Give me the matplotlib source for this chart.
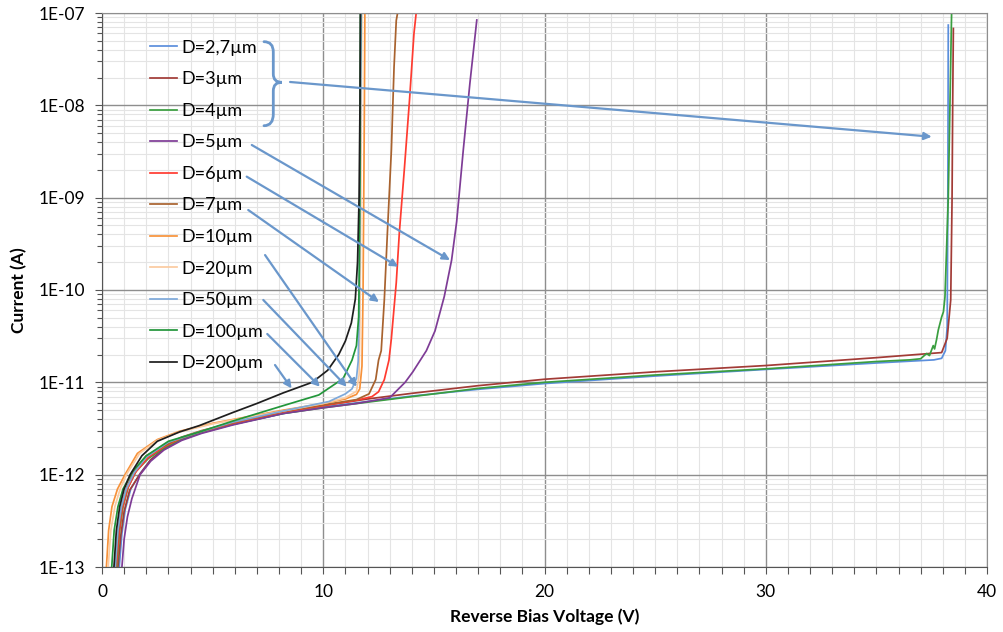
import numpy as np
import matplotlib
matplotlib.use('Agg')
import matplotlib.pyplot as plt
from matplotlib.ticker import LogLocator, MultipleLocator, FuncFormatter, NullFormatter
from matplotlib.path import Path
from matplotlib.patches import PathPatch

plt.rcParams['font.family'] = ['Lato', 'DejaVu Sans']

# ---- data ----
labels = ['D=2,7µm', 'D=3µm', 'D=4µm', 'D=5µm', 'D=6µm', 'D=7µm',
          'D=10µm', 'D=20µm', 'D=50µm', 'D=100µm', 'D=200µm']
colors = ['#5B8EDC', '#A23B36', '#3A9E3F', '#7E3C96', '#FF3B30', '#A8622E',
          '#F7923A', '#FBCBA0', '#7EA9DA', '#22963A', '#1E1E1E']

v_27 = [0.78, 0.9, 1.05, 1.3, 1.75, 2.2, 2.8, 3.6, 4.5, 5.9, 8.2, 10.0, 12.0, 14.0,
        17.0, 20.0, 25.0, 30.0, 35.0, 37.6, 37.95, 38.12, 38.2, 38.23, 38.25]
i_27 = [1e-13, 2.3e-13, 4.2e-13, 7e-13, 1.05e-12, 1.45e-12, 1.9e-12, 2.4e-12, 2.85e-12,
        3.5e-12, 4.6e-12, 5.4e-12, 6.2e-12, 7.1e-12, 8.4e-12, 9.7e-12, 1.17e-11, 1.38e-11,
        1.62e-11, 1.75e-11, 1.82e-11, 2.2e-11, 4e-11, 1e-9, 7.4e-8]

v_3 = [0.72, 0.85, 1.0, 1.25, 1.7, 2.2, 2.8, 3.6, 4.5, 5.9, 8.2, 10.0, 12.0, 14.0,
       17.0, 20.0, 25.0, 30.0, 35.0, 37.95, 38.2, 38.36, 38.42, 38.45, 38.48]
i_3 = [1e-13, 2.2e-13, 4e-13, 6.8e-13, 1.0e-12, 1.45e-12, 1.9e-12, 2.45e-12, 2.9e-12,
       3.6e-12, 4.8e-12, 5.6e-12, 6.6e-12, 7.6e-12, 9.2e-12, 1.08e-11, 1.3e-11, 1.52e-11,
       1.85e-11, 2.1e-11, 3e-11, 7.8e-11, 9.3e-10, 1.1e-8, 6.8e-8]

v_4 = [0.68, 0.8, 0.95, 1.2, 1.55, 2.1, 2.8, 3.6, 4.5, 5.9, 8.2, 10.0, 12.0, 14.0,
       17.0, 20.0, 25.0, 30.0, 35.0, 36.5, 37.0, 37.27, 37.4, 37.57, 37.63, 37.72,
       37.8, 37.95, 38.03, 38.1, 38.25, 38.4, 39.05]
i_4 = [1e-13, 2.5e-13, 4.5e-13, 7.5e-13, 1.1e-12, 1.5e-12, 1.95e-12, 2.4e-12, 2.85e-12,
       3.5e-12, 4.6e-12, 5.3e-12, 6.1e-12, 7.0e-12, 8.6e-12, 1.0e-11, 1.2e-11, 1.4e-11,
       1.68e-11, 1.75e-11, 1.8e-11, 2.05e-11, 1.95e-11, 2.5e-11, 2.3e-11, 2.9e-11,
       3.7e-11, 5.1e-11, 5.8e-11, 8.4e-11, 1e-9, 1e-7, 1e-7]

v_5 = [0.9, 1.0, 1.15, 1.35, 1.72, 2.2, 2.8, 3.6, 4.5, 5.9, 8.2, 10.0, 11.5, 13.0,
       13.7, 14.05, 14.66, 15.05, 15.47, 15.8, 16.03, 16.33, 16.63, 16.94]
i_5 = [1e-13, 2e-13, 3.5e-13, 5.5e-13, 1e-12, 1.4e-12, 1.85e-12, 2.35e-12, 2.8e-12,
       3.45e-12, 4.6e-12, 5.3e-12, 5.9e-12, 6.8e-12, 1.0e-11, 1.3e-11, 2.2e-11, 3.6e-11,
       8.5e-11, 2.1e-10, 5.5e-10, 3.3e-9, 1.75e-8, 8.4e-8]

v_6 = [0.65, 0.78, 0.92, 1.15, 1.5, 2.1, 2.8, 3.6, 4.5, 5.9, 8.2, 10.0, 11.5, 12.2,
       12.5, 12.76, 12.97, 13.08, 13.3, 13.44, 13.67, 13.9, 14.1, 14.2]
i_6 = [1e-13, 2.4e-13, 4.3e-13, 7e-13, 1.05e-12, 1.55e-12, 2.0e-12, 2.5e-12, 2.95e-12,
       3.6e-12, 4.8e-12, 5.6e-12, 6.4e-12, 7.0e-12, 7.9e-12, 1.07e-11, 1.74e-11, 3.0e-11,
       1.2e-10, 4.2e-10, 2.1e-9, 1.15e-8, 6e-8, 1e-7]

v_7 = [0.62, 0.75, 0.9, 1.12, 1.45, 2.0, 2.8, 3.6, 4.5, 5.9, 8.2, 10.0, 11.5, 12.07,
       12.37, 12.5, 12.62, 12.76, 12.9, 13.08, 13.2, 13.3, 13.36]
i_7 = [1e-13, 2.5e-13, 4.5e-13, 7.3e-13, 1.1e-12, 1.6e-12, 2.05e-12, 2.55e-12, 3.0e-12,
       3.65e-12, 4.85e-12, 5.7e-12, 6.5e-12, 7.5e-12, 1.07e-11, 1.74e-11, 2.2e-11,
       7.8e-11, 4.2e-10, 3.3e-9, 2.6e-8, 8.3e-8, 1e-7]

v_10 = [0.2, 0.3, 0.45, 0.7, 1.04, 1.6, 2.5, 3.5, 5.0, 6.5, 8.2, 10.0, 11.0, 11.5,
        11.65, 11.75, 11.8, 11.83, 11.86, 11.88, 11.95]
i_10 = [1e-13, 2.5e-13, 4.5e-13, 7e-13, 1e-12, 1.7e-12, 2.4e-12, 2.95e-12, 3.6e-12,
        4.2e-12, 5.0e-12, 5.9e-12, 6.6e-12, 7.4e-12, 8.5e-12, 1.5e-11, 1e-10, 1e-9,
        1e-8, 1e-7, 1e-7]

v_20 = [0.28, 0.4, 0.58, 0.82, 1.1, 1.7, 2.5, 3.5, 5.0, 6.5, 8.2, 10.0, 11.0, 11.5,
        11.62, 11.66, 11.7, 11.74]
i_20 = [1e-13, 2.5e-13, 4.5e-13, 7e-13, 1e-12, 1.7e-12, 2.35e-12, 2.9e-12, 3.55e-12,
        4.15e-12, 4.9e-12, 5.9e-12, 6.8e-12, 8e-12, 1.2e-11, 5e-11, 1e-9, 1e-7]

v_50 = [0.6, 0.72, 0.88, 1.1, 1.45, 2.0, 3.0, 4.4, 5.9, 8.2, 10.26, 11.0, 11.3, 11.5,
        11.58, 11.62, 11.66, 11.72]
i_50 = [1e-13, 2.5e-13, 4.5e-13, 7e-13, 1.05e-12, 1.55e-12, 2.25e-12, 2.9e-12,
        3.7e-12, 4.9e-12, 6.2e-12, 7.5e-12, 8.5e-12, 1.1e-11, 1.7e-11, 5e-11, 1e-9, 1e-7]

v_100 = [0.44, 0.55, 0.72, 0.95, 1.4, 2.0, 3.0, 4.4, 5.9, 8.2, 9.8, 10.9, 11.3, 11.5,
         11.6, 11.63, 11.66, 11.68]
i_100 = [1e-13, 2.5e-13, 4.5e-13, 7e-13, 1.1e-12, 1.6e-12, 2.3e-12, 2.9e-12, 3.8e-12,
         5.6e-12, 7.3e-12, 1.1e-11, 1.74e-11, 2.5e-11, 5.1e-11, 1.8e-10, 2e-9, 1e-7]

v_200 = [0.54, 0.65, 0.8, 1.0, 1.27, 1.8, 2.5, 3.5, 4.4, 5.9, 7.0, 8.2, 9.5, 10.2,
         10.7, 11.0, 11.27, 11.45, 11.55, 11.62, 11.66, 11.68]
i_200 = [1e-13, 2.5e-13, 4.5e-13, 7e-13, 1e-12, 1.6e-12, 2.3e-12, 2.9e-12, 3.4e-12,
         4.7e-12, 5.9e-12, 7.7e-12, 1.0e-11, 1.35e-11, 2.0e-11, 2.8e-11, 4.4e-11, 8e-11,
         2e-10, 1e-9, 1e-8, 1e-7]

volts = [v_27, v_3, v_4, v_5, v_6, v_7, v_10, v_20, v_50, v_100, v_200]
currents = [i_27, i_3, i_4, i_5, i_6, i_7, i_10, i_20, i_50, i_100, i_200]

# annotation arrows: (V start, I start, V end, I end)
arrows = [
    (8.50, 1.79e-8, 37.50, 4.57e-9),
    (6.77, 3.72e-9, 15.73, 2.11e-10),
    (6.54, 1.69e-9, 13.39, 1.79e-10),
    (6.61, 7.35e-10, 12.52, 7.41e-11),
    (7.37, 2.39e-10, 11.51, 8.97e-12),
    (7.29, 7.8e-11, 11.06, 8.97e-12),
    (7.47, 3.34e-11, 9.85, 8.97e-12),
    (7.82, 1.54e-11, 8.57, 8.6e-12),
]
arrow_color = '#6A97CB'

# ---- figure ----
W, H = 1004, 632
fig = plt.figure(figsize=(W / 100, H / 100), dpi=100)
x0, x1, y0, y1 = 102, 987, 13, 567
ax = fig.add_axes([x0 / W, 1 - y1 / H, (x1 - x0) / W, (y1 - y0) / H])

for v, i, lab, c in zip(volts, currents, labels, colors):
    ax.plot(v, i, color=c, lw=1.25, label=lab)

ax.set_yscale('log')
ax.set_xlim(0, 40)
ax.set_ylim(1e-13, 1e-7)

ax.xaxis.set_major_locator(MultipleLocator(10))
ax.xaxis.set_minor_locator(MultipleLocator(1))
ax.yaxis.set_major_locator(LogLocator(base=10, numticks=10))
ax.yaxis.set_minor_locator(LogLocator(base=10, subs=np.arange(2, 10), numticks=10))
ax.yaxis.set_major_formatter(FuncFormatter(lambda y, _: '1E-%02d' % round(-np.log10(y))))
ax.yaxis.set_minor_formatter(NullFormatter())

ax.set_axisbelow(True)
ax.grid(which='major', color='#8E8E8E', lw=1.0)
ax.grid(which='minor', color='#E4E4E4', lw=0.8)
for s in ['top', 'right']:
    ax.spines[s].set_color('#8E8E8E')
for s in ['left', 'bottom']:
    ax.spines[s].set_color('#555555')

ax.tick_params(axis='x', which='both', direction='out', length=5, width=0.8,
               color='#555555', labelsize=12.5, pad=7)
ax.tick_params(axis='y', which='major', direction='out', length=5, width=0.8,
               color='#555555', labelsize=12.5, pad=7)
ax.tick_params(axis='y', which='minor', direction='out', length=3.5, width=0.8,
               color='#555555')

ax.set_xlabel('Reverse Bias Voltage (V)', fontsize=12.5, fontweight='bold', labelpad=6)
ax.set_ylabel('Current (A)', fontsize=12.5, fontweight='bold', labelpad=8)

ax.legend(loc='upper left', bbox_to_anchor=(0.054, 0.9516), frameon=False,
          fontsize=13, handlelength=1.5, handletextpad=0.23, labelspacing=0.86,
          borderpad=0, borderaxespad=0)

for vs, is_, ve, ie in arrows:
    ax.annotate('', xy=(ve, ie), xytext=(vs, is_),
                arrowprops=dict(arrowstyle='-|>', color=arrow_color, lw=1.6,
                                mutation_scale=11, shrinkA=0, shrinkB=0))


# curly brace next to the first three legend entries (pixel positions -> axes fraction)
def px(x, y):
    return ((x - x0) / (x1 - x0), 1 - (y - y0) / (y1 - y0))


brace = [px(264, 41.7), px(273.3, 41.7), px(273.3, 52), px(273.3, 74),
         px(273.3, 82.3), px(281.7, 82.3), px(273.3, 82.3), px(273.3, 91),
         px(273.3, 114), px(273.3, 125.7), px(264, 125.7)]
codes = [Path.MOVETO, Path.CURVE3, Path.CURVE3, Path.LINETO, Path.CURVE3, Path.CURVE3,
         Path.CURVE3, Path.CURVE3, Path.LINETO, Path.CURVE3, Path.CURVE3]
ax.add_patch(PathPatch(Path(brace, codes), transform=ax.transAxes, fill=False,
                       edgecolor=arrow_color, lw=2.0, capstyle='round'))

fig.savefig('out.png', dpi=100)
